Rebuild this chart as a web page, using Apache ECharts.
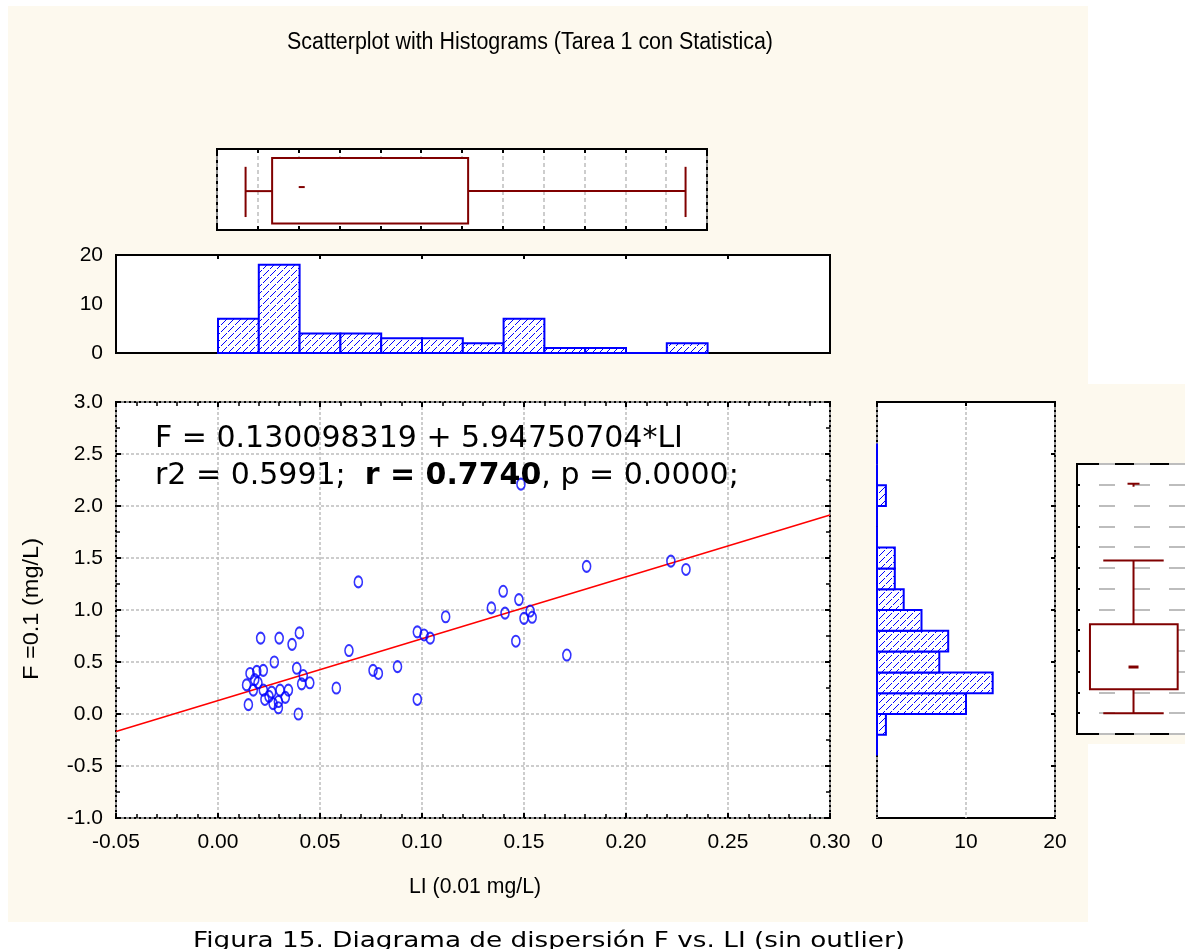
<!DOCTYPE html>
<html>
<head>
<meta charset="utf-8">
<script src="https://cdn.jsdelivr.net/npm/echarts@6/dist/echarts.min.js"></script>
<style>
html, body { margin: 0; padding: 0; background: #ffffff; }
#chart { width: 1185px; height: 949px; }
</style>
</head>
<body>
<div id="chart"></div>
<script>
// ---- observations: LI (0.01 mg/L) against F (mg/L) ----
const li = [
  0.0209, 0.0300, 0.0399, 0.0363, 0.0276, 0.0190, 0.0222, 0.0386, 0.0157, 0.0180,
  0.0418, 0.0450, 0.0410, 0.0196, 0.0173, 0.0222, 0.0263, 0.0304, 0.0345, 0.0140,
  0.0230, 0.0149, 0.0296, 0.0296, 0.0250, 0.0330, 0.0270, 0.0394,
  0.0580, 0.0642, 0.0688, 0.0760, 0.0786, 0.0880, 0.0977, 0.0977, 0.1010, 0.1040,
  0.1116, 0.1340, 0.1398, 0.1407, 0.1475, 0.1485, 0.1460, 0.1500, 0.1540, 0.1530,
  0.1710, 0.1807, 0.2220, 0.2294
];
const f = [
  0.73, 0.73, 0.78, 0.67, 0.50, 0.41, 0.42, 0.44, 0.39, 0.33,
  0.37, 0.30, 0.29, 0.30, 0.23, 0.23, 0.21, 0.23, 0.23, 0.28,
  0.14, 0.09, 0.12, 0.06, 0.17, 0.16, 0.10, 0.00,
  0.25, 0.61, 1.27, 0.42, 0.39, 0.455, 0.79, 0.14, 0.76, 0.73,
  0.935, 1.02, 1.18, 0.97, 1.10, 2.21, 0.70, 0.92, 0.93, 0.99,
  0.567, 1.42, 1.47, 1.39
];

// ---- fitted line F = intercept + slope * LI and its statistics ----
const regIntercept = 0.130098319;
const regSlope = 5.94750704;
const regR2 = 0.5991;
const regR = 0.7740;
const regP = 0.0000;

// ---- histogram of LI (bin edges, counts) ----
const liBinEdges = [0, 0.02, 0.04, 0.06, 0.08, 0.10, 0.12, 0.14, 0.16, 0.18, 0.20, 0.22, 0.24];
const liCounts   = [7, 18, 4, 4, 3, 3, 2, 7, 1, 1, 0, 2];

// ---- histogram of F (bin edges, counts) ----
const fBinEdges = [-0.4, -0.2, 0, 0.2, 0.4, 0.6, 0.8, 1.0, 1.2, 1.4, 1.6, 1.8, 2.0, 2.2, 2.4, 2.6];
const fCounts   = [0, 1, 10, 13, 7, 8, 5, 3, 2, 2, 0, 0, 1, 0, 0];

// ---- box plot summaries: min, Q1, median, Q3, max (non-outlier range) ----
const liBox = [0.014, 0.027, 0.0415, 0.123, 0.2295];
const fBox = [0.0, 0.23, 0.445, 0.856, 1.47];
const fOutliers = [2.21];

// ---- axis ranges ----
const liRange = [-0.05, 0.30];
const fRange = [-1.0, 3.0];
const countRange = [0, 20];

// ---- texts ----
const titleText = 'Scatterplot with Histograms (Tarea 1 con Statistica)';
const xName = 'LI (0.01 mg/L)';
const yName = 'F =0.1 (mg/L)';
const captionText = 'Figura 15. Diagrama de dispersión F vs. LI (sin outlier)';

const FONT_AXIS = '"Liberation Sans", Arial, sans-serif';
const FONT_TEXT = '"DejaVu Sans", Verdana, sans-serif';
const CREAM = '#fdf9ee';
const BLUE = '#0000ff';
const BOX = '#800000';
const GRIDC = '#bdbdbd';

// text measuring, used to squeeze the narrow title / axis captions
const mctx = document.createElement('canvas').getContext('2d');
function textWidth(text, size, family, weight) {
  mctx.font = (weight || 'normal') + ' ' + size + 'px ' + family;
  return mctx.measureText(text).width;
}
function fitScale(text, size, family, target) {
  return target / textWidth(text, size, family);
}

// diagonal hatch used inside the histogram bars
function makeHatch() {
  const n = 7;
  const c = document.createElement('canvas');
  c.width = n; c.height = n;
  const ctx = c.getContext('2d');
  ctx.fillStyle = '#ffffff';
  ctx.fillRect(0, 0, n, n);
  ctx.fillStyle = BLUE;
  for (let i = 0; i < n; i++) {
    if (i === 3) continue;
    ctx.fillRect(i, n - 1 - i, 1, 1);
  }
  return c;
}
const hatch = makeHatch();
const hatchFill = { image: hatch, repeat: 'repeat' };

const liHistData = liCounts.map((c, i) => [liBinEdges[i], liBinEdges[i + 1], c]);
const fHistData = fCounts.map((c, i) => [fBinEdges[i], fBinEdges[i + 1], c]);
const scatterData = li.map((x, i) => [x, f[i]]);
const regData = liRange.map(x => [x, regIntercept + regSlope * x]);

const chart = echarts.init(document.getElementById('chart'), null, { renderer: 'canvas' });

const frame = { show: true, backgroundColor: '#ffffff', borderColor: '#000000', borderWidth: 2, outerBoundsMode: 'none', containLabel: false };
const tickLabel = { fontSize: 21, fontFamily: FONT_AXIS, color: '#000000', showMinLabel: true, showMaxLabel: true, hideOverlap: false };
const noLine = { show: false, onZero: false };
const tickIn = (len, w) => ({ show: true, inside: true, length: len, lineStyle: { color: '#000000', width: w } });
const dotted = { show: true, lineStyle: { color: GRIDC, type: [3, 2], width: 1.5 } };
const minorIn = n => ({ show: true, splitNumber: n, length: 4, lineStyle: { color: '#000', width: 1.5 } });

function line(p0, p1, w) {
  return { type: 'line', shape: { x1: p0[0], y1: p0[1], x2: p1[0], y2: p1[1] }, style: { stroke: BOX, lineWidth: w || 2, fill: null } };
}

const option = {
  backgroundColor: CREAM,
  animation: false,
  grid: [
    Object.assign({ left: 116, top: 402, width: 714, height: 416 }, frame),  // scatter
    Object.assign({ left: 116, top: 255, width: 714, height: 98 }, frame),   // LI histogram
    Object.assign({ left: 217, top: 149, width: 490, height: 81 }, frame),   // LI box plot
    Object.assign({ left: 877, top: 402, width: 178, height: 416 }, frame),  // F histogram
    Object.assign({ left: 1077, top: 464, width: 120, height: 270 }, frame)  // F box plot
  ],
  xAxis: [
    { gridIndex: 0, type: 'value', position: 'bottom', min: liRange[0], max: liRange[1], interval: 0.05,
      axisLine: noLine, axisTick: tickIn(5, 2), minorTick: minorIn(5),
      axisLabel: Object.assign({ margin: 14, formatter: v => v.toFixed(2) }, tickLabel),
      splitLine: dotted },
    { gridIndex: 0, type: 'value', position: 'top', min: liRange[0], max: liRange[1], interval: 0.05,
      axisLine: noLine, axisTick: tickIn(5, 2), minorTick: minorIn(5),
      axisLabel: { show: false }, splitLine: { show: false } },
    { gridIndex: 1, type: 'value', position: 'top', min: liRange[0], max: liRange[1], interval: 0.05,
      axisLine: noLine, axisTick: tickIn(4, 2), axisLabel: { show: false }, splitLine: { show: false } },
    { gridIndex: 2, type: 'value', position: 'bottom', min: 0, max: 0.24, interval: 0.02,
      axisLine: noLine, axisTick: tickIn(4, 2), axisLabel: { show: false },
      splitLine: { show: true, lineStyle: { color: GRIDC, type: [4, 3], width: 1.5 } } },
    { gridIndex: 2, type: 'value', position: 'top', min: 0, max: 0.24, interval: 0.02,
      axisLine: noLine, axisTick: tickIn(4, 2), axisLabel: { show: false }, splitLine: { show: false } },
    { gridIndex: 3, type: 'value', position: 'bottom', min: countRange[0], max: countRange[1], interval: 10,
      axisLine: noLine, axisTick: { show: false },
      axisLabel: Object.assign({ margin: 14 }, tickLabel), splitLine: dotted },
    { gridIndex: 3, type: 'value', position: 'top', min: countRange[0], max: countRange[1], interval: 10,
      axisLine: noLine, axisTick: tickIn(4, 2), axisLabel: { show: false }, splitLine: { show: false } },
    { gridIndex: 4, type: 'value', min: 0, max: 1, show: false, axisLine: noLine }
  ],
  yAxis: [
    { gridIndex: 0, type: 'value', position: 'left', min: fRange[0], max: fRange[1], interval: 0.5,
      axisLine: noLine, axisTick: tickIn(5, 2), minorTick: minorIn(2),
      axisLabel: Object.assign({ margin: 13, formatter: v => v.toFixed(1) }, tickLabel),
      splitLine: dotted },
    { gridIndex: 0, type: 'value', position: 'right', min: fRange[0], max: fRange[1], interval: 0.5,
      axisLine: noLine, axisTick: tickIn(5, 2), minorTick: minorIn(2),
      axisLabel: { show: false }, splitLine: { show: false } },
    { gridIndex: 1, type: 'value', position: 'left', min: countRange[0], max: countRange[1], interval: 10,
      axisLine: noLine, axisTick: { show: false },
      axisLabel: Object.assign({ margin: 13 }, tickLabel), splitLine: { show: false } },
    { gridIndex: 2, type: 'value', min: 0, max: 1, show: false, axisLine: noLine },
    { gridIndex: 3, type: 'value', position: 'right', min: fRange[0], max: fRange[1], interval: 0.5,
      axisLine: noLine, axisTick: tickIn(4, 2), axisLabel: { show: false }, splitLine: { show: false } },
    { gridIndex: 4, type: 'value', position: 'left', min: -0.2, max: 2.4, interval: 0.2,
      axisLine: noLine, axisTick: tickIn(3, 2), axisLabel: { show: false },
      splitLine: { show: true, lineStyle: { color: GRIDC, type: [16, 19], dashOffset: -22, width: 2 } } }
  ],
  series: [
    { // fitted line
      type: 'line', xAxisIndex: 0, yAxisIndex: 0, data: regData,
      showSymbol: false, silent: true, z: 3,
      lineStyle: { color: '#ff0000', width: 1.6 }
    },
    { // observations
      type: 'scatter', xAxisIndex: 0, yAxisIndex: 0, data: scatterData, z: 4,
      symbol: 'path://M0,6 A4,6 0 1,0 8,6 A4,6 0 1,0 0,6 Z',
      symbolSize: [8, 11],
      itemStyle: { color: 'rgba(0,0,0,0)', borderColor: BLUE, borderWidth: 1.8 }
    },
    { // LI histogram
      type: 'custom', xAxisIndex: 2, yAxisIndex: 2, data: liHistData, z: 3,
      renderItem: (params, api) => {
        const tl = api.coord([api.value(0), api.value(2)]);
        const br = api.coord([api.value(1), 0]);
        return { type: 'rect', shape: { x: tl[0], y: tl[1], width: br[0] - tl[0], height: br[1] - tl[1] },
                 style: { fill: hatchFill, stroke: BLUE, lineWidth: 2 } };
      }
    },
    { // F histogram (horizontal bars)
      type: 'custom', xAxisIndex: 5, yAxisIndex: 4, data: fHistData, z: 3,
      renderItem: (params, api) => {
        const tl = api.coord([0, api.value(1)]);
        const br = api.coord([api.value(2), api.value(0)]);
        return { type: 'rect', shape: { x: tl[0], y: tl[1], width: br[0] - tl[0], height: br[1] - tl[1] },
                 style: { fill: hatchFill, stroke: BLUE, lineWidth: 2 } };
      }
    },
    { // LI box plot (horizontal)
      type: 'custom', xAxisIndex: 3, yAxisIndex: 3, data: [liBox], z: 3,
      renderItem: (params, api) => {
        const v = [0, 1, 2, 3, 4].map(i => api.value(i));
        const c = (x, y) => api.coord([x, y]);
        const q1 = c(v[1], 0.89), q3 = c(v[3], 0.08);
        const md = c(v[2], 0.53);
        return { type: 'group', children: [
          line(c(v[0], 0.16), c(v[0], 0.78)),
          line(c(v[0], 0.48), c(v[1], 0.48)),
          line(c(v[3], 0.48), c(v[4], 0.48)),
          line(c(v[4], 0.16), c(v[4], 0.78)),
          { type: 'rect', shape: { x: q1[0], y: q1[1], width: q3[0] - q1[0], height: q3[1] - q1[1] },
            style: { fill: '#ffffff', stroke: BOX, lineWidth: 2 } },
          line([md[0] - 3, md[1]], [md[0] + 3, md[1]], 2)
        ] };
      }
    },
    { // F box plot (vertical)
      type: 'custom', xAxisIndex: 7, yAxisIndex: 5, data: [fBox], z: 3,
      renderItem: (params, api) => {
        const v = [0, 1, 2, 3, 4].map(i => api.value(i));
        const c = (x, y) => api.coord([x, y]);
        const cx = 0.471;
        const b0 = c(0.108, v[3]), b1 = c(0.839, v[1]);
        const md = c(cx, v[2]);
        const kids = [
          line(c(0.219, v[0]), c(0.7225, v[0])),
          line(c(cx, v[0]), c(cx, v[1])),
          line(c(cx, v[3]), c(cx, v[4])),
          line(c(0.219, v[4]), c(0.7225, v[4])),
          { type: 'rect', shape: { x: b0[0], y: b0[1], width: b1[0] - b0[0], height: b1[1] - b0[1] },
            style: { fill: '#ffffff', stroke: BOX, lineWidth: 2 } },
          line([md[0] - 5, md[1]], [md[0] + 5, md[1]], 3)
        ];
        fOutliers.forEach(o => {
          const p = c(cx, o);
          kids.push(line([p[0] - 6, p[1]], [p[0] + 6, p[1]], 2));
          kids.push(line([p[0], p[1]], [p[0], p[1] + 3], 2));
        });
        return { type: 'group', children: kids };
      }
    }
  ],
  graphic: []
};

// plain white page around the cream chart area
const whiteAreas = [
  [0, 0, 1185, 6], [0, 0, 8, 949], [1088, 0, 97, 384], [1088, 744, 97, 205], [0, 922, 1185, 27]
];
whiteAreas.forEach(r => option.graphic.push({
  type: 'rect', silent: true, shape: { x: r[0], y: r[1], width: r[2], height: r[3] }, style: { fill: '#ffffff' }
}));

// title
option.graphic.push({
  type: 'text', x: 530, y: 43, z: 50, scaleX: fitScale(titleText, 23, FONT_AXIS, 486),
  style: { text: titleText, fontSize: 23, fontFamily: FONT_AXIS, fill: '#000', align: 'center', verticalAlign: 'middle' }
});
// axis captions
option.graphic.push({
  type: 'text', x: 475, y: 887, z: 50, scaleX: fitScale(xName, 22, FONT_AXIS, 132),
  style: { text: xName, fontSize: 22, fontFamily: FONT_AXIS, fill: '#000', align: 'center', verticalAlign: 'middle' }
});
option.graphic.push({
  type: 'text', x: 32, y: 609, z: 50, rotation: Math.PI / 2, scaleX: fitScale(yName, 22, FONT_AXIS, 142),
  style: { text: yName, fontSize: 22, fontFamily: FONT_AXIS, fill: '#000', align: 'center', verticalAlign: 'middle' }
});

// regression equation and statistics inside the scatter panel
const eqSize = 30;
const eqLine1 = 'F = ' + regIntercept + ' + ' + regSlope + '*LI';
option.graphic.push({
  type: 'text', x: 155, y: 439, z: 50,
  style: { text: eqLine1, fontSize: eqSize, fontFamily: FONT_TEXT, fill: '#000', align: 'left', verticalAlign: 'middle' }
});
const seg = [
  { t: 'r2 = ' + regR2.toFixed(4) + ';  ', w: 'normal' },
  { t: 'r = ' + regR.toFixed(4), w: 'bold' },
  { t: ', p = ' + regP.toFixed(4) + ';', w: 'normal' }
];
let sx = 155;
seg.forEach(s => {
  option.graphic.push({
    type: 'text', x: sx, y: 476, z: 50,
    style: { text: s.t, fontSize: eqSize, fontFamily: FONT_TEXT, fontWeight: s.w, fill: '#000', align: 'left', verticalAlign: 'middle' }
  });
  sx += textWidth(s.t, eqSize, FONT_TEXT, s.w);
});

// figure caption below the chart
option.graphic.push({
  type: 'text', x: 549, y: 941, z: 50, scaleX: fitScale(captionText, 22, FONT_TEXT, 712),
  style: { text: captionText, fontSize: 22, fontFamily: FONT_TEXT, fill: '#000', align: 'center', verticalAlign: 'middle' }
});

chart.setOption(option);
</script>
</body>
</html>
